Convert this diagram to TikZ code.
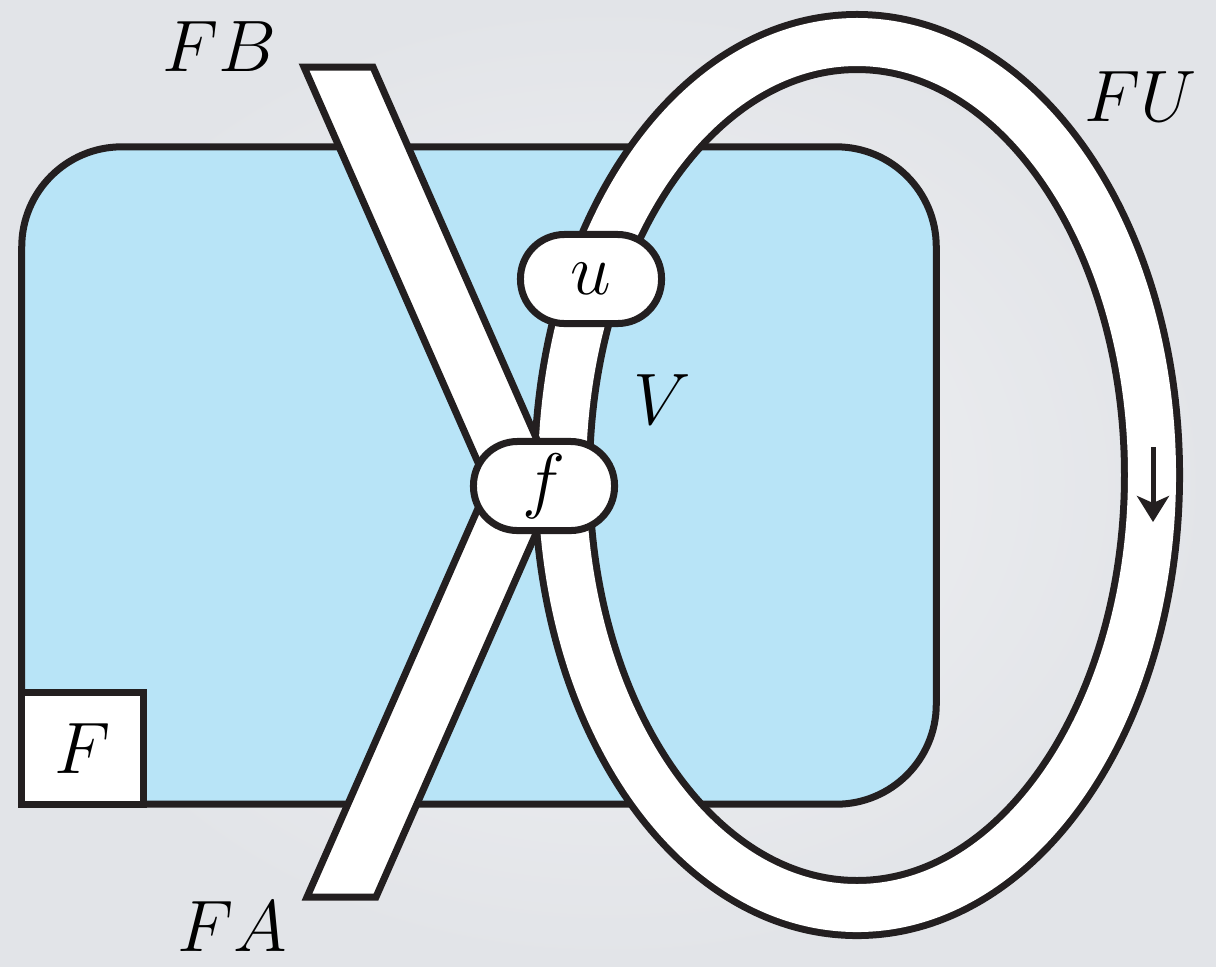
\documentclass[tikz,border=0pt]{standalone}
\usetikzlibrary{arrows.meta}

\definecolor{ink}{RGB}{35,31,32}
\definecolor{catblue}{RGB}{184,228,247}
\definecolor{bgin}{RGB}{241,242,244}
\definecolor{bgout}{RGB}{226,228,232}
\tikzset{
  wire/.style={draw=ink, fill=white, line width=0.07cm, line join=miter},
  bead/.style={draw=ink, fill=white, line width=0.07cm, rounded corners=0.44cm,
    minimum width=1.41cm, minimum height=0.89cm, inner sep=0pt, outer sep=0pt},
  lbl/.style={inner sep=0pt},
}

\begin{document}
\begin{tikzpicture}[x=0.01cm, y=-0.01cm, font=\fontsize{19.5}{24}\selectfont]
    \shade[inner color=bgin, outer color=bgout] (0,0) rectangle (1216,966);
    \useasboundingbox (0,0) rectangle (1216,966);
    % the category and its corner label
    \node[draw=ink, fill=catblue, line width=0.07cm, rounded corners=1cm,
      minimum width=9.14cm, minimum height=6.57cm, outer sep=0pt] (cat) at (479,475.5) {};
    \node[draw=ink, fill=white, line width=0.07cm, minimum width=1.22cm,
      minimum height=1.12cm, outer sep=0pt, anchor=south west] (F) at (cat.south west) {$F$};
    % the loop FU
    \draw[ink, line width=0.62cm] (857,475) ellipse [x radius=295, y radius=433];
    \draw[white, line width=0.48cm] (857,475) ellipse [x radius=295, y radius=433];
    % strips FB and FA
    \coordinate (fbL) at (304,67);  \coordinate (fbR) at (373,67);
    \coordinate (faL) at (307,897); \coordinate (faR) at (376,897);
    \draw[wire] (fbL) -- (fbR) -- (563.5,500) -- (494.5,500) -- cycle;
    \draw[wire] (faL) -- (faR) -- (561.7,475) -- (492.7,475) -- cycle;
    % beads on the wires
    \node[bead] (u) at (591,279) {$u$};
    \node[bead] (f) at (544,486) {$f$};
    % labels
    \node[lbl] (FBl) at (220,47) {$FB$};
    \node[lbl] (FAl) at (232,927) {$FA$};
    \node[lbl] (FUl) at (1141,97) {$FU$};
    \node[lbl] (Vl) at (662,400) {$V$};
    % direction of the loop
    \coordinate (dirTop) at (1153,447);
    \coordinate (dirBot) at (1153,522);
    \draw[ink, line width=0.05cm, -{Stealth[length=0.26cm, width=0.32cm, inset=0.07cm]}] (dirTop) -- (dirBot);
\end{tikzpicture}
\end{document}
